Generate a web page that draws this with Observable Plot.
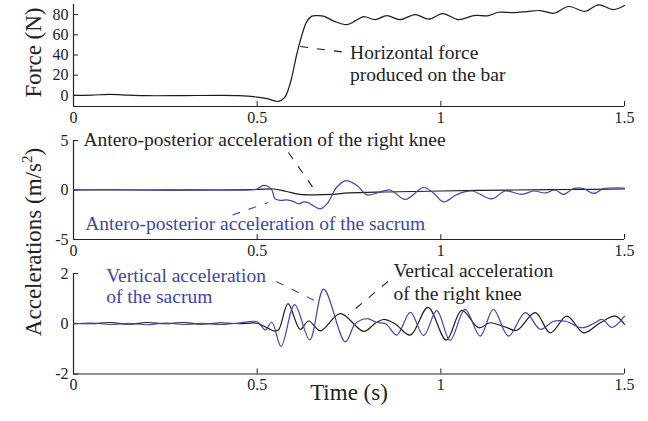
<!DOCTYPE html>
<html><head><meta charset="utf-8">
<script src="https://cdn.jsdelivr.net/npm/d3@7"></script>
<script src="https://cdn.jsdelivr.net/npm/@observablehq/plot@0.6"></script>
<style>
body{margin:0;background:#fff;}
#chart{position:relative;width:648px;height:421px;overflow:hidden;font-family:"Liberation Serif","Times New Roman",serif;background:#fff;}
#ylab2{position:absolute;left:33px;top:242px;transform:translate(-50%,-50%) rotate(-90deg);white-space:nowrap;font-size:23px;color:#222;line-height:1;}
#ylab2 sup{font-size:15px;line-height:0;vertical-align:0.55em;}
</style></head><body><div id="chart"><div id="ylab2">Accelerations (m/s<sup>2</sup>)</div></div>
<script>
// ---------- data ----------
const timeTicks = [0, 0.5, 1, 1.5];
const forceTicks = [0, 20, 40, 60, 80];
const apTicks = [-5, 0, 5];
const vertTicks = [-2, 0, 2];

const forceTime  = [0, 0.05, 0.1, 0.15, 0.2, 0.3, 0.4, 0.45, 0.5, 0.53, 0.557, 0.575, 0.59, 0.608, 0.622, 0.635, 0.649, 0.665, 0.681, 0.712, 0.744, 0.768, 0.79, 0.821, 0.853, 0.889, 0.93, 0.967, 1.005, 1.048, 1.089, 1.13, 1.157, 1.198, 1.234, 1.271, 1.307, 1.348, 1.393, 1.429, 1.47, 1.5];
const forceValue = [0, 0.3, 1.0, 0.3, -0.3, -0.2, 0, -0.3, -1.7, -3.5, -6, -2, 12, 41, 60, 73, 78.5, 79, 78.5, 73, 70, 74, 78, 75, 79, 75, 80, 75.5, 81, 75, 79, 79, 82.3, 82, 83, 84, 81.3, 88, 83.3, 89.6, 85, 89];

const kneeApTime  = [0, 0.2, 0.4, 0.5, 0.545, 0.58, 0.617, 0.66, 0.7, 0.75, 0.85, 1.0, 1.2, 1.35, 1.5];
const kneeApValue = [0, 0, 0, 0.05, 0.1, -0.15, -0.45, -0.5, -0.45, -0.3, -0.2, -0.1, 0, 0.05, 0.1];

const sacrumApTime  = [0, 0.1, 0.2, 0.3, 0.4, 0.48, 0.5, 0.515, 0.53, 0.54, 0.549, 0.565, 0.581, 0.598, 0.613, 0.627, 0.64, 0.649, 0.672, 0.69, 0.717, 0.742, 0.772, 0.799, 0.826, 0.862, 0.903, 0.953, 0.98, 1.007, 1.044, 1.085, 1.139, 1.175, 1.221, 1.252, 1.284, 1.311, 1.334, 1.361, 1.388, 1.416, 1.443, 1.466, 1.5];
const sacrumApValue = [0, 0.05, 0, 0.02, 0, 0, 0.1, 0.45, 0.35, 0, -0.9, -1.05, -1.0, -1.15, -1.4, -1.2, -1.3, -1.5, -1.9, -1.4, 0.3, 0.95, 0.45, -0.5, -0.3, 0, -0.95, 0.25, -0.3, -1.2, -0.45, -0.1, -0.9, -0.1, -0.45, -0.1, -0.3, 0, -0.45, 0.15, 0.15, -0.35, 0.15, 0.2, 0.2];

const kneeVertTime  = [0, 0.05, 0.1, 0.15, 0.2, 0.25, 0.3, 0.35, 0.4, 0.45, 0.5, 0.527, 0.545, 0.558, 0.584, 0.617, 0.64, 0.672, 0.726, 0.79, 0.82, 0.844, 0.875, 0.917, 0.965, 1.015, 1.057, 1.103, 1.134, 1.175, 1.207, 1.257, 1.298, 1.343, 1.389, 1.434, 1.475, 1.5];
const kneeVertValue = [0.02, 0, 0.05, -0.02, 0.05, 0, 0.05, -0.02, 0.04, 0, 0.02, -0.16, -0.28, -0.25, 0.8, -0.22, 0.11, -0.28, 0.4, -0.3, 0.0, 0.17, 0.0, -0.45, 0.65, -0.65, 0.53, -0.16, 0.04, -0.13, -0.26, 0.44, -0.36, 0.3, -0.36, 0.04, 0.3, -0.03];

const sacrumVertTime  = [0, 0.05, 0.1, 0.15, 0.2, 0.25, 0.3, 0.35, 0.4, 0.45, 0.5, 0.522, 0.54, 0.565, 0.602, 0.643, 0.681, 0.74, 0.767, 0.799, 0.826, 0.85, 0.88, 0.917, 0.953, 0.989, 1.025, 1.066, 1.107, 1.143, 1.184, 1.23, 1.271, 1.307, 1.34, 1.384, 1.415, 1.439, 1.466, 1.5];
const sacrumVertValue = [0, 0.03, -0.03, 0.02, -0.04, 0.03, -0.03, 0.02, -0.03, 0.03, 0.08, -0.24, 0.06, -0.9, 0.76, -0.64, 1.38, -0.72, 0.0, 0.2, 0.05, 0.0, -0.45, 0.45, -0.47, 0.52, -0.66, 0.57, -0.49, 0.57, -0.49, 0.44, -0.22, 0.1, 0.1, -0.16, 0.0, 0.17, -0.15, 0.3];

// annotations: text, x (s), y (data units)
const forceNoteText = ["Horizontal force", "produced on the bar"];
const forceNoteX = [0.753, 0.753];
const forceNoteY = [42.7, 20.9];
const forceLeader = [0.617, 48.4, 0.742, 42.5];

const kneeApNote = ["Antero-posterior acceleration of the right knee", 0.027, 5.05];
const kneeApLeader = [0.585, 3.79, 0.663, -0.35];
const sacrumApNote = ["Antero-posterior acceleration of the sacrum", 0.032, -3.38];
const sacrumApLeader = [0.433, -2.53, 0.530, -1.26];

const sacrumVertNoteText = ["Vertical acceleration", "of the sacrum"];
const sacrumVertNoteX = [0.089, 0.089];
const sacrumVertNoteY = [1.9, 1.06];
const sacrumVertLeader = [0.552, 1.68, 0.668, 0.84];
const kneeVertNoteText = ["Vertical acceleration", "of the right knee"];
const kneeVertNoteX = [0.871, 0.871];
const kneeVertNoteY = [2.1, 1.2];
const kneeVertLeader = [0.856, 1.68, 0.748, 0.36];

// ---------- drawing ----------
const BLACK = "#1c1c1c", BLUE = "#3d46a9", TXT = "#222";
const FONT = "'Liberation Serif', 'Times New Roman', serif";
const W = 648, ML = 73, MR = 24;
const fmt = d => String(d);
const chart = document.getElementById("chart");
const rows = (ts, vs) => ts.map((t, i) => ({t, v: vs[i]}));
const notes = (txt, xs, ys) => txt.map((s, i) => ({s, x: xs[i], y: ys[i]}));
const leader = (a, color) => Plot.link([a], {x1: d => d[0], y1: d => d[1], x2: d => d[2], y2: d => d[3], stroke: color, strokeWidth: 1.1, strokeDasharray: "8,9"});
const line = (ts, vs, color) => Plot.line(rows(ts, vs), {x: "t", y: "v", curve: "catmull-rom", stroke: color, strokeWidth: 1.2});
const noteMark = (data, color) => Plot.text(data, {x: "x", y: "y", text: "s", textAnchor: "start", fontSize: 19.5, fontFamily: FONT, fill: color});

function panel({top, height, mt, mb, yDomain, yTicks, marks}) {
  const plotH = height - mt - mb, plotW = W - ML - MR;
  const svg = Plot.plot({
    width: W, height, marginLeft: ML, marginRight: MR, marginTop: mt, marginBottom: mb,
    x: {domain: [0, 1.5], axis: null}, y: {domain: yDomain, axis: null},
    style: {fontFamily: FONT, fontSize: "16px", color: TXT, background: "transparent", overflow: "visible"},
    marks: [
      Plot.text(timeTicks, {x: d => d, text: fmt, frameAnchor: "bottom", lineAnchor: "top", dy: 5, fontSize: 16, fontFamily: FONT, fill: TXT}),
      Plot.text(yTicks, {y: d => d, text: fmt, frameAnchor: "left", textAnchor: "end", dx: -5, fontSize: 16, fontFamily: FONT, fill: TXT}),
      Plot.tickX(timeTicks, {x: d => d, insetTop: plotH - 5, stroke: TXT}),
      Plot.tickY(yTicks, {y: d => d, insetRight: plotW - 5, stroke: TXT}),
      Plot.ruleX([0], {stroke: TXT, strokeWidth: 1.2}),
      Plot.ruleY([yDomain[0]], {stroke: TXT, strokeWidth: 1.2}),
      ...marks
    ]
  });
  svg.style.position = "absolute";
  svg.style.top = top + "px";
  svg.style.left = "0px";
  chart.append(svg);
}

panel({top: 0, height: 125, mt: 4, mb: 19, yDomain: [-11, 90], yTicks: forceTicks, marks: [
  line(forceTime, forceValue, BLACK),
  leader(forceLeader, BLACK),
  noteMark(notes(forceNoteText, forceNoteX, forceNoteY), TXT),
  Plot.text(["Force (N)"], {frameAnchor: "left", textAnchor: "middle", dx: -40, dy: -3, rotate: -90, fontSize: 23, fontFamily: FONT, fill: TXT})
]});

panel({top: 125, height: 135, mt: 15, mb: 21, yDomain: [-5, 5], yTicks: apTicks, marks: [
  line(kneeApTime, kneeApValue, BLACK),
  line(sacrumApTime, sacrumApValue, BLUE),
  leader(kneeApLeader, BLACK),
  leader(sacrumApLeader, BLUE),
  noteMark([{s: kneeApNote[0], x: kneeApNote[1], y: kneeApNote[2]}], TXT),
  noteMark([{s: sacrumApNote[0], x: sacrumApNote[1], y: sacrumApNote[2]}], BLUE)
]});

panel({top: 260, height: 161, mt: 13, mb: 47.5, yDomain: [-2, 2], yTicks: vertTicks, marks: [
  line(kneeVertTime, kneeVertValue, BLACK),
  line(sacrumVertTime, sacrumVertValue, BLUE),
  leader(sacrumVertLeader, BLUE),
  leader(kneeVertLeader, BLACK),
  noteMark(notes(sacrumVertNoteText, sacrumVertNoteX, sacrumVertNoteY), BLUE),
  noteMark(notes(kneeVertNoteText, kneeVertNoteX, kneeVertNoteY), TXT),
  Plot.text(["Time (s)"], {frameAnchor: "bottom", dy: 26, fontSize: 23, fontFamily: FONT, fill: TXT})
]});
</script></body></html>
